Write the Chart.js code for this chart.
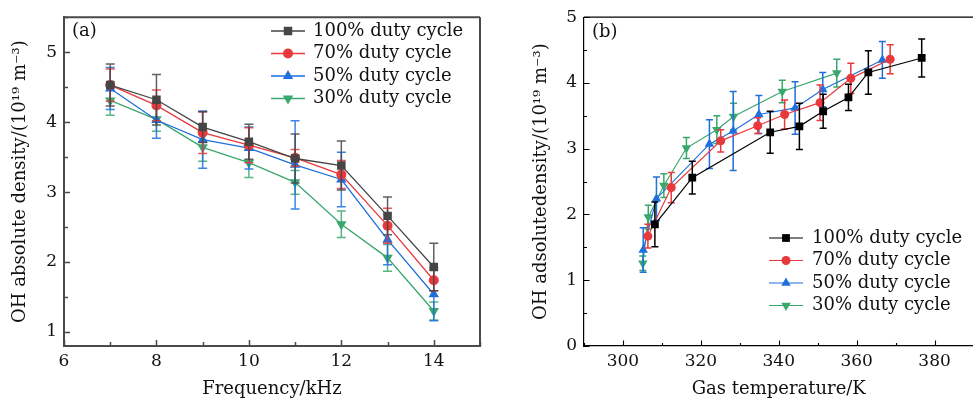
<!DOCTYPE html>
<html><head><meta charset="utf-8">
<script src="https://cdn.jsdelivr.net/npm/chart.js@4/dist/chart.umd.min.js"></script>
<style>
html,body{margin:0;padding:0;background:#fff;overflow:hidden;width:973px;height:403px}
#wa{position:absolute;left:0;top:0;width:490px;height:403px}
#wb{position:absolute;left:490px;top:0;width:489px;height:403px}
</style></head><body>
<div id="wa"><canvas id="ca" width="490" height="403"></canvas></div>
<div id="wb"><canvas id="cb" width="489" height="403"></canvas></div>
<script>
// ---------- data ----------
const seriesLabels = ['100% duty cycle', '70% duty cycle', '50% duty cycle', '30% duty cycle'];

// panel (a): frequency (kHz) vs OH density (1e19 m^-3)
const freqA = [7, 8, 9, 10, 11, 12, 13, 14];
const densA100 = [4.53, 4.32, 3.93, 3.72, 3.48, 3.38, 2.66, 1.93];
const errA100  = [0.30, 0.36, 0.22, 0.25, 0.35, 0.35, 0.27, 0.34];
const densA70  = [4.53, 4.24, 3.85, 3.67, 3.49, 3.25, 2.52, 1.74];
const errA70   = [0.23, 0.22, 0.30, 0.25, 0.12, 0.20, 0.25, 0.15];
const densA50  = [4.48, 4.03, 3.75, 3.63, 3.39, 3.18, 2.32, 1.54];
const errA50   = [0.30, 0.26, 0.41, 0.30, 0.63, 0.39, 0.36, 0.38];
const densA30  = [4.31, 4.04, 3.64, 3.42, 3.14, 2.54, 2.06, 1.30];
const errA30   = [0.21, 0.17, 0.20, 0.21, 0.17, 0.19, 0.19, 0.13];

// panel (b): gas temperature (K) vs OH density
const tempB100 = [308.2, 317.8, 337.8, 345.3, 351.4, 357.9, 363.0, 376.7];
const densB100 = [1.85, 2.56, 3.25, 3.34, 3.57, 3.78, 4.16, 4.38];
const errB100  = [0.34, 0.25, 0.32, 0.35, 0.26, 0.20, 0.33, 0.29];
const tempB70  = [306.4, 312.4, 325.1, 334.6, 341.5, 350.6, 358.5, 368.6];
const densB70  = [1.67, 2.41, 3.12, 3.35, 3.52, 3.70, 4.07, 4.36];
const errB70   = [0.18, 0.23, 0.17, 0.12, 0.22, 0.27, 0.23, 0.22];
const tempB50  = [305.2, 308.6, 322.2, 328.3, 334.9, 344.2, 351.3, 366.6];
const densB50  = [1.46, 2.24, 3.07, 3.27, 3.52, 3.62, 3.90, 4.35];
const errB50   = [0.34, 0.33, 0.37, 0.60, 0.29, 0.40, 0.26, 0.28];
const tempB30  = [305.1, 306.5, 310.5, 316.3, 324.1, 328.4, 340.9, 354.9];
const densB30  = [1.26, 1.96, 2.44, 3.01, 3.29, 3.49, 3.87, 4.15];
const errB30   = [0.11, 0.18, 0.18, 0.16, 0.21, 0.20, 0.17, 0.21];

// tick labels
const xTicksA = [6, 8, 10, 12, 14];
const yTicksA = [1, 2, 3, 4, 5];
const xTicksB = [300, 320, 340, 360, 380];
const yTicksB = [0, 1, 2, 3, 4, 5];

// ---------- styling ----------
const RED = '#e8393c', BLUE = '#1f6fdc', GREEN = '#3aa76d';
const SERIF = "'DejaVu Serif', 'Liberation Serif', serif";

function pts(xs, ys) { return xs.map((x, i) => ({x: x, y: ys[i]})); }

function makeDs(label, xs, ys, errs, color, style, radius, rot, lw) {
  return {
    label: label, data: pts(xs, ys), errors: errs,
    borderColor: color, backgroundColor: color,
    pointBackgroundColor: color, pointBorderColor: color, pointBorderWidth: 0,
    pointStyle: style, pointRadius: radius, pointHoverRadius: radius, pointRotation: rot,
    borderWidth: lw, showLine: true, tension: 0
  };
}

function minorVals(major, min, max) {
  const out = [];
  const step = major[1] - major[0];
  for (let v = major[0] - step / 2; v <= max + 1e-9; v += step) {
    if (v >= min - 1e-9) out.push(v);
  }
  return out;
}

const deco = {
  id: 'deco',
  beforeDatasetDraw(chart, args, o) {
    const ds = chart.data.datasets[args.index];
    if (!ds.errors) return;
    const ys = chart.scales.y, ctx = chart.ctx;
    ctx.save();
    ctx.strokeStyle = ds.borderColor;
    ctx.globalAlpha = o.errAlpha;
    ctx.lineWidth = o.errWidth;
    args.meta.data.forEach((el, i) => {
      const v = ds.data[i].y, e = ds.errors[i];
      const x = el.x, y1 = ys.getPixelForValue(v + e), y2 = ys.getPixelForValue(v - e);
      const c = o.cap;
      ctx.beginPath();
      ctx.moveTo(x, y1); ctx.lineTo(x, y2);
      ctx.moveTo(x - c, y1); ctx.lineTo(x + c, y1);
      ctx.moveTo(x - c, y2); ctx.lineTo(x + c, y2);
      ctx.stroke();
    });
    ctx.restore();
  },
  beforeDatasetsDraw(chart, args, o) {
    const ctx = chart.ctx, a = chart.chartArea, xs = chart.scales.x, ys = chart.scales.y;
    ctx.save();
    ctx.strokeStyle = o.axisColor;
    ctx.lineWidth = o.tickWidth;
    ctx.beginPath();
    const xMaj = o.xMajor, yMaj = o.yMajor;
    xMaj.forEach(v => { const p = Math.round(xs.getPixelForValue(v)) + 0.5; ctx.moveTo(p, a.bottom); ctx.lineTo(p, a.bottom - o.majLen); });
    minorVals(xMaj, xs.min, xs.max).forEach(v => { const p = Math.round(xs.getPixelForValue(v)) + 0.5; ctx.moveTo(p, a.bottom); ctx.lineTo(p, a.bottom - o.minLen); });
    yMaj.forEach(v => { const p = Math.round(ys.getPixelForValue(v)) + 0.5; ctx.moveTo(a.left, p); ctx.lineTo(a.left + o.majLen, p); });
    minorVals(yMaj, ys.min, ys.max).forEach(v => { const p = Math.round(ys.getPixelForValue(v)) + 0.5; ctx.moveTo(a.left, p); ctx.lineTo(a.left + o.minLen, p); });
    ctx.stroke();
    // top and right frame
    ctx.lineWidth = o.frameWidth;
    ctx.beginPath();
    ctx.moveTo(a.left, a.top); ctx.lineTo(a.right, a.top);
    if (o.rightFrame) { ctx.moveTo(a.right, a.top); ctx.lineTo(a.right, a.bottom); }
    ctx.stroke();
    ctx.restore();
  },
  afterDraw(chart, args, o) {
    const ctx = chart.ctx, L = o.legend;
    ctx.save();
    chart.data.datasets.forEach((ds, i) => {
      const y = L.y0 + i * L.dy;
      ctx.strokeStyle = ds.borderColor; ctx.lineWidth = ds.borderWidth;
      ctx.beginPath(); ctx.moveTo(L.x0, y); ctx.lineTo(L.x1, y); ctx.stroke();
      ctx.fillStyle = ds.pointBackgroundColor;
      Chart.helpers.drawPoint(ctx, {pointStyle: ds.pointStyle, rotation: ds.pointRotation || 0, radius: ds.pointRadius, borderWidth: 0}, (L.x0 + L.x1) / 2, y);
      ctx.fillStyle = '#111';
      ctx.font = L.font;
      ctx.textBaseline = 'middle'; ctx.textAlign = 'left';
      ctx.fillText(ds.label, L.xt, y);
    });
    ctx.fillStyle = '#111';
    ctx.font = o.tag.font;
    ctx.textBaseline = 'middle'; ctx.textAlign = 'left';
    ctx.fillText(o.tag.text, o.tag.x, o.tag.y);
    ctx.restore();
  }
};

function axisCfg(min, max, tickVals, color, bw, w, h, titleText, titlePad, tickPad, isX) {
  return {
    type: 'linear', min: min, max: max,
    grid: {display: false, drawTicks: false},
    border: {display: true, color: color, width: bw},
    afterBuildTicks: s => { s.ticks = tickVals.map(v => ({value: v})); },
    afterFit: s => { if (isX) s.height = h; else s.width = w; },
    ticks: {color: '#111', font: {family: SERIF, size: 17}, padding: tickPad, autoSkip: false, maxRotation: 0,
            callback: v => String(v)},
    title: {display: true, text: titleText, color: '#111', font: {family: SERIF, size: 18}, padding: titlePad}
  };
}

const common = {
  responsive: false, animation: false, maintainAspectRatio: false,
  events: [],
};

// ---------- chart (a) ----------
new Chart(document.getElementById('ca'), {
  type: 'scatter',
  data: {datasets: [
    makeDs(seriesLabels[0], freqA, densA100, errA100, '#454545', 'rect', 6, 0, 1.3),
    makeDs(seriesLabels[1], freqA, densA70, errA70, RED, 'circle', 5, 0, 1.3),
    makeDs(seriesLabels[2], freqA, densA50, errA50, BLUE, 'triangle', 6, 0, 1.3),
    makeDs(seriesLabels[3], freqA, densA30, errA30, GREEN, 'triangle', 6, 180, 1.3)
  ]},
  options: Object.assign({}, common, {
    layout: {padding: {top: 13, right: 10, left: 0, bottom: 0}},
    scales: {
      x: axisCfg(6, 15, xTicksA, '#4a4a4a', 2, 0, 57, 'Frequency/kHz', {top: 0, bottom: 3}, 5, true),
      y: axisCfg(0.8, 5.5, yTicksA, '#4a4a4a', 2, 64, 0, 'OH absolute density/(10¹⁹ m⁻³)', {top: 10, bottom: 0}, 7, false)
    },
    plugins: {
      legend: {display: false}, tooltip: {enabled: false},
      deco: {
        axisColor: '#4a4a4a', tickWidth: 1.5, frameWidth: 2, rightFrame: true, majLen: 6, minLen: 4,
        xMajor: xTicksA, yMajor: yTicksA, errWidth: 1.5, errAlpha: 0.85, cap: 4.5,
        legend: {x0: 271, x1: 305, xt: 313, y0: 31, dy: 22.5, font: '18px ' + SERIF},
        tag: {text: '(a)', x: 72, y: 31, font: '18px ' + SERIF}
      }
    }
  }),
  plugins: [deco]
});

// ---------- chart (b) ----------
new Chart(document.getElementById('cb'), {
  type: 'scatter',
  data: {datasets: [
    makeDs(seriesLabels[0], tempB100, densB100, errB100, '#000000', 'rect', 5.5, 0, 1.2),
    makeDs(seriesLabels[1], tempB70, densB70, errB70, RED, 'circle', 4.5, 0, 1.2),
    makeDs(seriesLabels[2], tempB50, densB50, errB50, BLUE, 'triangle', 5.5, 0, 1.2),
    makeDs(seriesLabels[3], tempB30, densB30, errB30, GREEN, 'triangle', 5.5, 180, 1.2)
  ]},
  options: Object.assign({}, common, {
    layout: {padding: {top: 13, right: 0, left: 0, bottom: 0}},
    scales: {
      x: axisCfg(290, 390, xTicksB, '#000', 1.2, 0, 57, 'Gas temperature/K', {top: 0, bottom: 3}, 5, true),
      y: axisCfg(0, 5, yTicksB, '#000', 1.2, 94, 0, 'OH adsolutedensity/(10¹⁹ m⁻³)', {top: 41, bottom: 0}, 7, false)
    },
    plugins: {
      legend: {display: false}, tooltip: {enabled: false},
      deco: {
        axisColor: '#000', tickWidth: 1.1, frameWidth: 1.2, rightFrame: false, majLen: 5.5, minLen: 3,
        xMajor: xTicksB, yMajor: yTicksB, errWidth: 1.5, errAlpha: 1, cap: 3.5,
        legend: {x0: 279, x1: 313, xt: 322, y0: 238, dy: 22.5, font: '18px ' + SERIF},
        tag: {text: '(b)', x: 102, y: 32, font: '18px ' + SERIF}
      }
    }
  }),
  plugins: [deco]
});
</script>
</body></html>
